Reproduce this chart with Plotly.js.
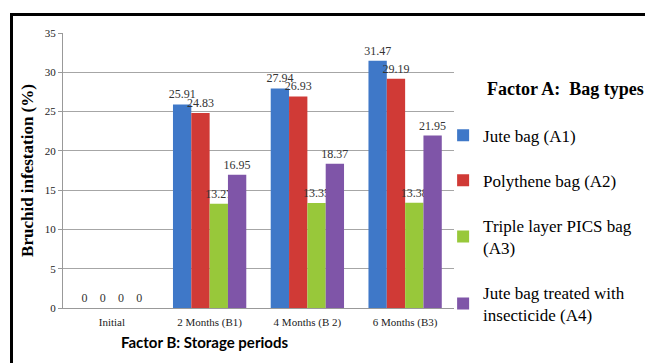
<!DOCTYPE html>
<html>
<head>
<meta charset="utf-8">
<script src="https://cdn.plot.ly/plotly-3.0.1.min.js"></script>
<style>
  html, body { margin: 0; padding: 0; background: #fff; overflow: hidden; }
  #frame { position: absolute; left: 10px; top: 13px; width: 700px; height: 400px;
           border-left: 3px solid #000; border-top: 3px solid #000; }
  #chart { position: absolute; left: 0; top: 0; width: 645px; height: 363px; }
</style>
</head>
<body>
<div id="frame"></div>
<div id="chart"></div>
<script>
const categories = ["Initial", "2 Months (B1)", "4 Months (B 2)", "6 Months (B3)"];
const seriesNames = ["Jute bag (A1)", "Polythene bag (A2)", "Triple layer PICS bag<br>(A3)", "Jute bag treated with<br>insecticide (A4)"];
const juteBag = [0, 25.91, 27.94, 31.47];
const polytheneBag = [0, 24.83, 26.93, 29.19];
const picsBag = [0, 13.27, 13.35, 13.38];
const treatedJuteBag = [0, 16.95, 18.37, 21.95];
const colors = ["#3f78c8", "#d03a36", "#98c83a", "#7f55a8"];

const values = [juteBag, polytheneBag, picsBag, treatedJuteBag];
const traces = values.map((v, i) => ({
  type: "bar",
  x: categories,
  y: v,
  name: seriesNames[i],
  legendgroup: "g" + i,
  marker: { color: colors[i] },
  text: v.map(d => d === 0 ? "0" : d.toFixed(2)),
  textposition: "outside",
  constraintext: "none",
  cliponaxis: false,
  textfont: { family: "Liberation Serif", size: 12, color: "#333" },
  hoverinfo: "x+y+name"
}));

const layout = {
  width: 645, height: 363,
  margin: { l: 63, r: 191, t: 33, b: 55, autoexpand: false },
  paper_bgcolor: "rgba(0,0,0,0)",
  plot_bgcolor: "rgba(0,0,0,0)",
  barmode: "group",
  bargap: 0.25,
  bargroupgap: 0,
  showlegend: true,
  font: { family: "Liberation Serif", color: "#000" },
  xaxis: {
    showgrid: false, showline: true, linecolor: "#999", linewidth: 1,
    ticks: "", ticklabelstandoff: 4,
    tickfont: { family: "Liberation Serif", size: 11, color: "#222" },
    fixedrange: true
  },
  yaxis: {
    range: [0, 35], dtick: 5, showgrid: true, gridcolor: "#a6a6a6", gridwidth: 1,
    showline: true, linecolor: "#999", linewidth: 1, zeroline: false,
    ticks: "outside", ticklen: 4, tickcolor: "#999",
    tickfont: { family: "Liberation Serif", size: 11, color: "#222" },
    title: { text: "<b>Bruchid infestation (%)</b>", standoff: 6,
             font: { family: "Liberation Serif", size: 17, color: "#000" } },
    fixedrange: true
  },
  legend: {
    xref: "container", yref: "container",
    x: 0.687, xanchor: "left", y: 0.676, yanchor: "top",
    maxheight: 400,
    font: { family: "Liberation Serif", size: 17, color: "#000" },
    tracegroupgap: 20,
    itemwidth: 30,
    bgcolor: "rgba(0,0,0,0)"
  },
  annotations: [
    { text: "<b>Factor A:  Bag types</b>", xref: "paper", yref: "paper",
      x: 1.079, y: 0.796, xanchor: "left", yanchor: "middle", showarrow: false,
      font: { family: "Liberation Serif", size: 18, color: "#000" } },
    { text: "<b>Factor B: Storage periods</b>", xref: "paper", yref: "paper",
      x: 0.363, y: -0.124, xanchor: "center", yanchor: "middle", showarrow: false,
      font: { family: "Lato", size: 15, color: "#000" } }
  ]
};

Plotly.newPlot("chart", traces, layout, { displayModeBar: false, responsive: false });
</script>
</body>
</html>
